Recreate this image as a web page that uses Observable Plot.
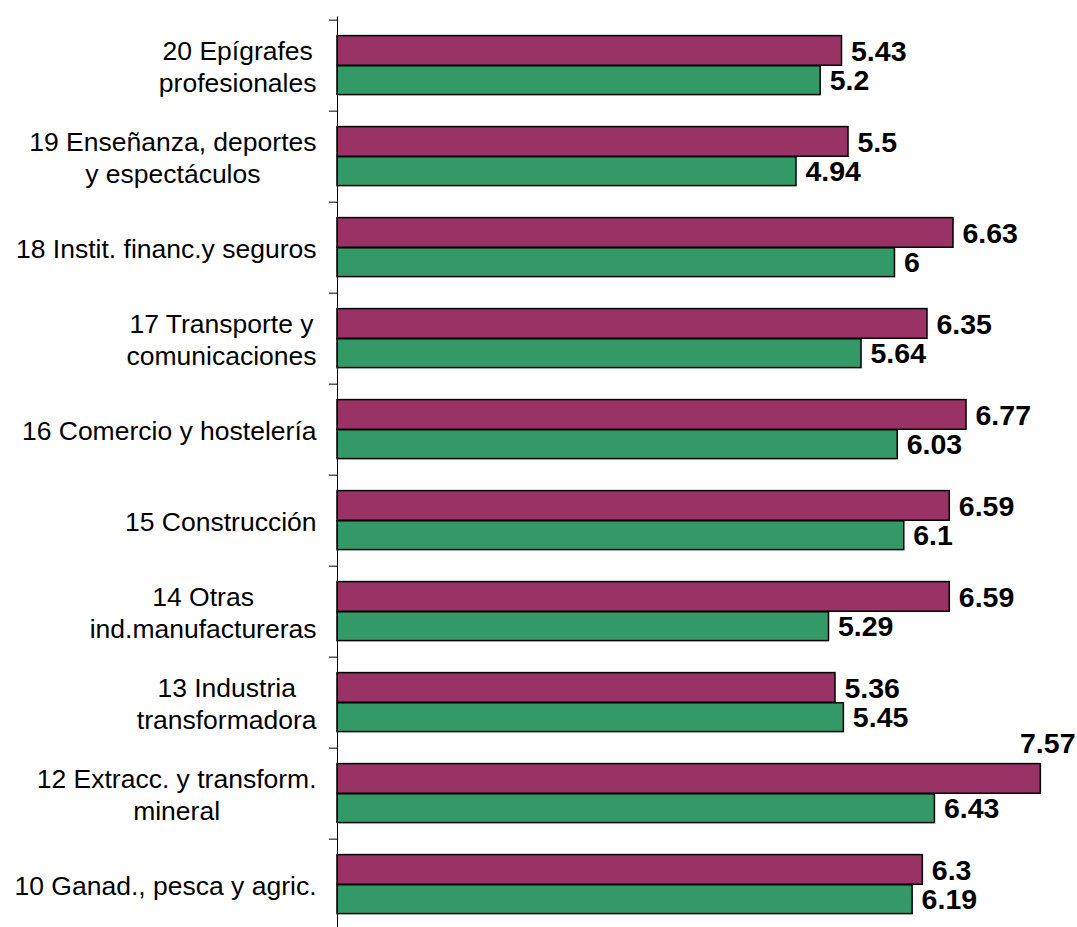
<!DOCTYPE html>
<html>
<head>
<meta charset="utf-8">
<script src="https://cdn.jsdelivr.net/npm/d3@7"></script>
<script src="https://cdn.jsdelivr.net/npm/@observablehq/plot@0.6"></script>
<style>
  html, body { margin: 0; padding: 0; background: #fff; overflow: hidden; }
  #chart { width: 1077px; height: 927px; }
</style>
</head>
<body>
<div id="chart"></div>
<script>
const categories = [
  "20 Epígrafes\nprofesionales",
  "19 Enseñanza, deportes\ny espectáculos",
  "18 Instit. financ.y seguros",
  "17 Transporte y\ncomunicaciones",
  "16 Comercio y hostelería",
  "15 Construcción",
  "14 Otras\nind.manufactureras",
  "13 Industria\ntransformadora",
  "12 Extracc. y transform.\nmineral",
  "10 Ganad., pesca y agric."
];
const seriesA = [5.43, 5.5, 6.63, 6.35, 6.77, 6.59, 6.59, 5.36, 7.57, 6.3];
const seriesB = [5.2, 4.94, 6, 5.64, 6.03, 6.1, 5.29, 5.45, 6.43, 6.19];

const rowsA = categories.map((c, i) => ({cat: c, value: seriesA[i]}));
const rowsB = categories.map((c, i) => ({cat: c, value: seriesB[i]}));

const W = 1077, H = 927;
const marginTop = 16.4, marginBottom = -6.4;
const step = (H - marginTop - marginBottom) / categories.length;

const colA = "#993366", colB = "#339966";
const fits = d => d.value < 7.3;

const chart = Plot.plot({
  width: W,
  height: H,
  marginLeft: 337,
  marginRight: 6,
  marginTop,
  marginBottom,
  style: {fontFamily: "Liberation Sans, Arial, sans-serif", background: "#fff", overflow: "hidden"},
  x: {domain: [0, 7.9], axis: null},
  y: {domain: categories, padding: 0, axis: null},
  marks: [
    Plot.axisY({tickSize: 0, tickPadding: 21, fontSize: 26.5, lineHeight: 1.2, fill: "#000", label: null}),
    Plot.axisY({tickSize: 8, tickFormat: null, dy: -step / 2, stroke: "#000", label: null}),
    Plot.barX(rowsA, {x: "value", y: "cat", fill: colA, stroke: "#000", strokeWidth: 1.5,
      insetTop: 15.6, insetBottom: step / 2 - 0.1}),
    Plot.barX(rowsB, {x: "value", y: "cat", fill: colB, stroke: "#000", strokeWidth: 1.5,
      insetTop: step / 2 - 0.1, insetBottom: 16.4}),
    Plot.ruleX([0], {stroke: "#000", strokeWidth: 1}),
    Plot.text(rowsA.filter(fits), {x: "value", y: "cat", text: d => String(d.value),
      dx: 9, dy: -14.5, textAnchor: "start", fontWeight: "bold", fontSize: 28.5, fill: "#000"}),
    Plot.text(rowsA.filter(d => !fits(d)), {y: "cat", text: d => String(d.value), frameAnchor: "right",
      dx: 4, dy: -49.8, textAnchor: "end", fontWeight: "bold", fontSize: 28.5, fill: "#000"}),
    Plot.text(rowsB, {x: "value", y: "cat", text: d => String(d.value),
      dx: 9, dy: 14.5, textAnchor: "start", fontWeight: "bold", fontSize: 28.5, fill: "#000"})
  ]
});
document.getElementById("chart").appendChild(chart);

// Center the lines of multi-line category labels within their right-aligned block
chart.querySelectorAll('g[aria-label="y-axis tick label"] text').forEach(t => {
  const spans = t.querySelectorAll("tspan");
  if (spans.length > 1) {
    let w = 0;
    spans.forEach(s => { w = Math.max(w, s.getComputedTextLength()); });
    t.setAttribute("text-anchor", "middle");
    spans.forEach(s => s.setAttribute("x", -w / 2));
  }
});
</script>
</body>
</html>
